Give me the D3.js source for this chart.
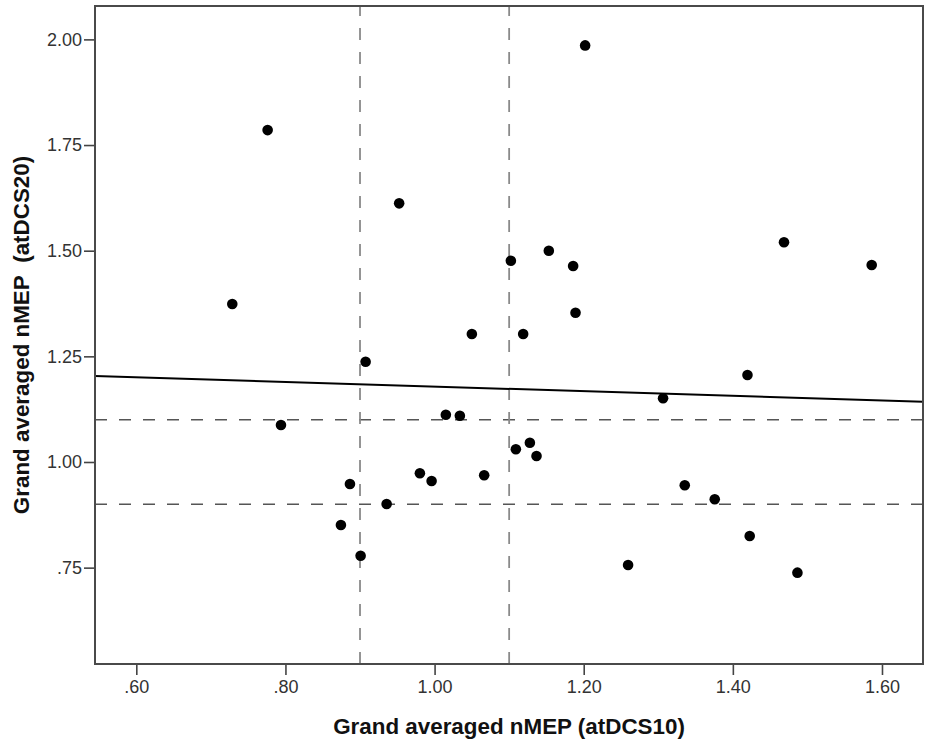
<!DOCTYPE html>
<html>
<head>
<meta charset="utf-8">
<script src="https://cdn.jsdelivr.net/npm/d3@7"></script>
<style>
  html, body { margin: 0; padding: 0; background: #fff; }
  svg { display: block; font-family: "Liberation Sans", Arial, sans-serif; }
</style>
</head>
<body>
<svg id="chart" width="928" height="745"></svg>
<script>
// ---- data ----
const xValues = [0.7287, 0.7761, 0.7940, 0.8744, 0.8865, 0.9008, 0.9075, 0.9357, 0.9525, 0.9803,
                 0.9960, 1.0151, 1.0339, 1.0500, 1.0665, 1.1023, 1.1090, 1.1188, 1.1278, 1.1367,
                 1.1532, 1.1858, 1.1890, 1.2019, 1.2595, 1.3064, 1.3355, 1.3757, 1.4196, 1.4226,
                 1.4686, 1.4866, 1.5862];
const yValues = [1.3738, 1.7854, 1.0875, 0.8510, 0.9480, 0.7783, 1.2373, 0.9006, 1.6120, 0.9733,
                 0.9550, 1.1119, 1.1095, 1.3028, 0.9685, 1.4762, 1.0300, 1.3028, 1.0457, 1.0142,
                 1.4999, 1.4637, 1.3532, 1.9858, 0.7563, 1.1507, 0.9449, 0.9118, 1.2058, 0.8249,
                 1.5198, 0.7381, 1.4660];
const xTicks = [0.6, 0.8, 1.0, 1.2, 1.4, 1.6];
const xTickLabels = [".60", ".80", "1.00", "1.20", "1.40", "1.60"];
const yTicks = [0.75, 1.0, 1.25, 1.5, 1.75, 2.0];
const yTickLabels = [".75", "1.00", "1.25", "1.50", "1.75", "2.00"];
const xDomain = [0.5446, 1.655];
const yDomain = [0.522, 2.079];
const refX = [0.9, 1.1];
const refY = [0.9, 1.1];
const fitIntercept = 1.2329;
const fitSlope = -0.0545;
const xTitle = "Grand averaged nMEP (atDCS10)";
const yTitle = "Grand averaged nMEP\u00a0\u00a0(atDCS20)";

// ---- layout ----
const L = 95, R = 923, T = 6, B = 664;
const svg = d3.select("#chart");
const x = d3.scaleLinear().domain(xDomain).range([L, R]);
const y = d3.scaleLinear().domain(yDomain).range([B, T]);

// reference lines
svg.append("g").selectAll("line").data(refY).join("line")
  .attr("x1", L).attr("x2", R)
  .attr("y1", d => y(d)).attr("y2", d => y(d))
  .attr("stroke", "#555").attr("stroke-width", 1.3)
  .attr("stroke-dasharray", "12,12");
svg.append("g").selectAll("line").data(refX).join("line")
  .attr("y1", B).attr("y2", T)
  .attr("x1", d => x(d)).attr("x2", d => x(d))
  .attr("stroke", "#8a8a8a").attr("stroke-width", 1.8)
  .attr("stroke-dasharray", "12,12");

// fit line
svg.append("line")
  .attr("x1", x(xDomain[0])).attr("y1", y(fitIntercept + fitSlope * xDomain[0]))
  .attr("x2", x(xDomain[1])).attr("y2", y(fitIntercept + fitSlope * xDomain[1]))
  .attr("stroke", "#000").attr("stroke-width", 2);

// points
svg.append("g").selectAll("circle").data(xValues.map((v, i) => [v, yValues[i]])).join("circle")
  .attr("cx", d => x(d[0])).attr("cy", d => y(d[1])).attr("r", 5.3)
  .attr("fill", "#000");

// axes
const xAxis = d3.axisBottom(x).tickValues(xTicks)
  .tickFormat((d, i) => xTickLabels[i]).tickSize(11).tickPadding(5).tickSizeOuter(0);
const yAxis = d3.axisLeft(y).tickValues(yTicks)
  .tickFormat((d, i) => yTickLabels[i]).tickSize(11).tickPadding(2).tickSizeOuter(0);

const gx = svg.append("g").attr("transform", `translate(0,${B})`).call(xAxis);
const gy = svg.append("g").attr("transform", `translate(${L},0)`).call(yAxis);
[gx, gy].forEach(g => {
  g.select(".domain").remove();
  g.selectAll(".tick line").attr("stroke", "#444").attr("stroke-width", 1.6);
  g.selectAll(".tick text").attr("fill", "#333").style("font-size", "18px")
    .style("font-family", "'Liberation Sans', Arial, sans-serif");
});

// frame
svg.append("rect").attr("x", L).attr("y", T).attr("width", R - L).attr("height", B - T)
  .attr("fill", "none").attr("stroke", "#4a4a4a").attr("stroke-width", 2);

// titles
svg.append("text").attr("x", (L + R) / 2).attr("y", 734)
  .attr("text-anchor", "middle").attr("font-weight", "bold").attr("font-size", 22.4)
  .attr("fill", "#111").text(xTitle);
svg.append("text").attr("transform", `translate(28.5,${(T + B) / 2}) rotate(-90)`)
  .attr("text-anchor", "middle").attr("font-weight", "bold").attr("font-size", 22.4)
  .attr("fill", "#111").text(yTitle);
</script>
</body>
</html>
